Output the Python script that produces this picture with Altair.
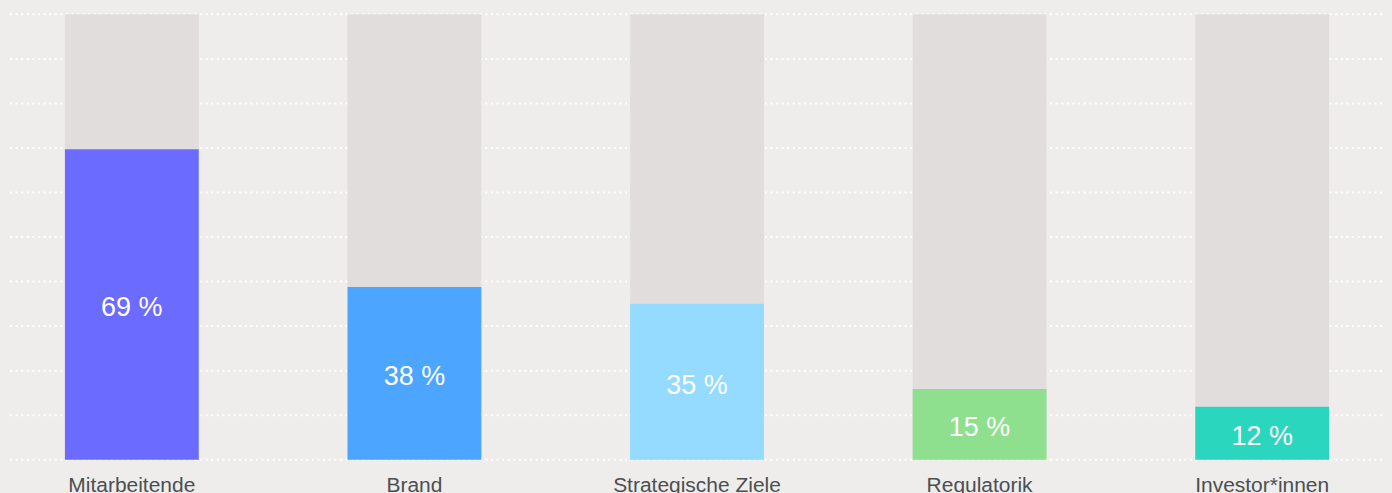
import altair as alt
import pandas as pd
import jinja2

categories = ["Mitarbeitende", "Brand", "Strategische Ziele", "Regulatorik", "Investor*innen"]
bar_values = [69.7, 38.8, 35.0, 15.9, 11.9]
labels = ["69 %", "38 %", "35 %", "15 %", "12 %"]
colors = ["#6b6bff", "#4ca6ff", "#94dbff", "#8ee08e", "#2bd6be"]
full = [100, 100, 100, 100, 100]
grid_ticks = [0, 10, 20, 30, 40, 50, 60, 70, 80, 90, 100]

df = pd.DataFrame({
    "cat": categories,
    "value": bar_values,
    "half": [v / 2 for v in bar_values],
    "label": labels,
    "full": full,
})
grid_df = pd.DataFrame({"g": grid_ticks})

PLOT_W = 1374
PLOT_H = 446

x = alt.X(
    "cat:N",
    sort=categories,
    title=None,
    scale=alt.Scale(range=[55, 1321], paddingInner=0.5265, paddingOuter=0),
    axis=alt.Axis(
        labelAngle=0,
        domain=False,
        ticks=False,
        grid=False,
        labelFont="Liberation Sans",
        labelFontSize=21,
        labelColor="#4b4f52",
        labelPadding=15,
    ),
)

yscale = alt.Scale(domain=[0, 100], nice=False)

grid = alt.Chart(grid_df).mark_rule(
    color="#ffffff", strokeWidth=2, strokeDash=[2, 3.6], opacity=1
).encode(
    y=alt.Y("g:Q", scale=yscale, title=None, axis=None),
    x=alt.value(0),
    x2=alt.value(PLOT_W),
)

bg = alt.Chart(df).mark_bar(color="#e0dddc").encode(
    x=x,
    y=alt.Y("full:Q", scale=yscale, title=None, axis=None),
)

fg = alt.Chart(df).mark_bar().encode(
    x=x,
    y=alt.Y("value:Q", scale=yscale, axis=None),
    color=alt.Color("cat:N", sort=categories, scale=alt.Scale(domain=categories, range=colors), legend=None),
)

txt = alt.Chart(df).mark_text(
    color="white", font="Liberation Sans", fontSize=27, baseline="middle", dy=4
).encode(
    x=x,
    y=alt.Y("half:Q", scale=yscale, axis=None),
    text="label:N",
)

chart = (
    alt.layer(grid, bg, fg, txt)
    .properties(
        width=PLOT_W,
        height=PLOT_H,
        background="#eeedeb",
        padding={"left": 2, "top": 6, "right": 2, "bottom": 40},
        autosize=alt.AutoSizeParams(type="none"),
    )
    .configure_view(stroke=None)
)

PAGE_TEMPLATE = jinja2.Template("""<!DOCTYPE html>
<html>
<head>
  <style>
    html, body { background: #eeedeb; overflow: hidden; }
    #{{ output_div }}.vega-embed { width: 100%; display: flex; }
  </style>
  <script type="text/javascript" src="{{ base_url }}/vega@{{ vega_version }}"></script>
  <script type="text/javascript" src="{{ base_url }}/vega-lite@{{ vegalite_version }}"></script>
  <script type="text/javascript" src="{{ base_url }}/vega-embed@{{ vegaembed_version }}"></script>
</head>
<body>
<div id="{{ output_div }}"></div>
<script type="text/javascript">
  (function(vegaEmbed) {
    var spec = {{ spec }};
    var embedOpt = {{ embed_options }};
    function showError(el, error){
      el.innerHTML = ('<div style="color:red;"><p>JavaScript Error: ' + error.message + '</p></div>');
      throw error;
    }
    const el = document.getElementById('{{ output_div }}');
    vegaEmbed("#{{ output_div }}", spec, embedOpt).catch(error => showError(el, error));
  })(vegaEmbed);
</script>
</body>
</html>
""")

chart.save("out.html", embed_options={"renderer": "svg", "actions": False}, template=PAGE_TEMPLATE)
